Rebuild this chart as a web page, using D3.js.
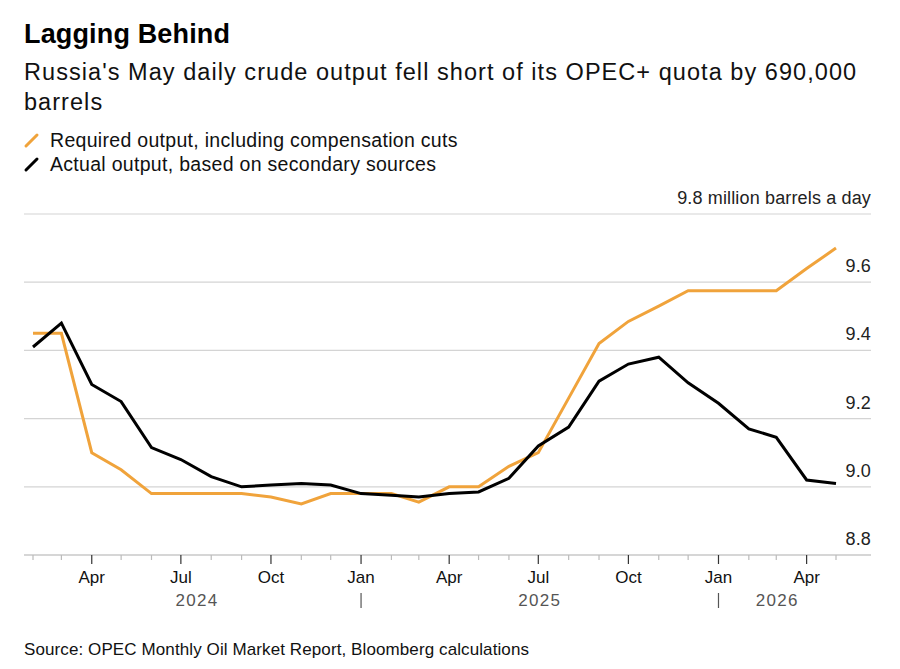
<!DOCTYPE html>
<html lang="en">
<head>
<meta charset="UTF-8">
<title>Lagging Behind</title>
<script src="https://d3js.org/d3.v7.min.js"></script>
<style>
  body { margin: 0; background: #fff; }
  svg { display: block; font-family: "Liberation Sans", Arial, sans-serif; }
</style>
</head>
<body>
<svg id="chart" width="900" height="669"></svg>
<script>
// months from Feb 2024 to May 2026
const months = d3.timeMonths(new Date(2024, 1, 1), new Date(2026, 5, 1));

// million barrels a day
const required = [9.45, 9.45, 9.10, 9.05, 8.98, 8.98, 8.98, 8.98, 8.97, 8.95, 8.98, 8.98,
                  8.98, 8.955, 9.0, 9.0, 9.06, 9.10, 9.26, 9.42, 9.485, 9.53, 9.575, 9.575,
                  9.575, 9.575, 9.64, 9.70];
const actual = [9.41, 9.48, 9.30, 9.25, 9.115, 9.08, 9.03, 9.0, 9.005, 9.01, 9.005, 8.98,
                8.975, 8.97, 8.98, 8.985, 9.025, 9.12, 9.175, 9.31, 9.36, 9.38, 9.305, 9.245,
                9.17, 9.145, 9.02, 9.01];

const yTicks = [8.8, 9.0, 9.2, 9.4, 9.6, 9.8];
const years = [
  { label: "2024", from: new Date(2024, 1, 1), to: new Date(2025, 0, 1) },
  { label: "2025", from: new Date(2025, 0, 1), to: new Date(2026, 0, 1) },
  { label: "2026", from: new Date(2026, 0, 1), to: new Date(2026, 4, 1) }
];
const series = [
  { name: "Required output, including compensation cuts", values: required, color: "#f0a33b" },
  { name: "Actual output, based on secondary sources", values: actual, color: "#000" }
];

const svg = d3.select("#chart");
const plotLeft = 24, plotRight = 871, plotTop = 214, plotBottom = 555;

const x = d3.scaleTime()
  .domain([months[0], months[months.length - 1]])
  .range([33, 836]);
const y = d3.scaleLinear().domain([8.8, 9.8]).range([plotBottom, plotTop]);

// titles
svg.append("text").attr("x", 24).attr("y", 43)
  .attr("font-size", 27).attr("font-weight", "bold").attr("fill", "#000")
  .attr("letter-spacing", 0.15)
  .text("Lagging Behind");
svg.append("text").attr("x", 24).attr("y", 80)
  .attr("font-size", 23.5).attr("fill", "#111").attr("letter-spacing", 1.05)
  .text("Russia's May daily crude output fell short of its OPEC+ quota by 690,000");
svg.append("text").attr("x", 24).attr("y", 110)
  .attr("font-size", 23.5).attr("fill", "#111").attr("letter-spacing", 1.05)
  .text("barrels");

// legend
const legend = svg.append("g");
series.forEach((s, i) => {
  const ly = 147 + i * 24;
  legend.append("line")
    .attr("x1", 26).attr("y1", ly - 1).attr("x2", 37).attr("y2", ly - 12)
    .attr("stroke", s.color).attr("stroke-width", 3).attr("stroke-linecap", "round");
  legend.append("text").attr("x", 50).attr("y", ly)
    .attr("font-size", 19.5).attr("fill", "#111").attr("letter-spacing", 0.3)
    .text(s.name);
});

// gridlines + y labels
const grid = svg.append("g");
grid.selectAll("line").data(yTicks.slice(1)).join("line")
  .attr("x1", plotLeft).attr("x2", plotRight)
  .attr("y1", d => y(d)).attr("y2", d => y(d))
  .attr("stroke", "#d4d4d4").attr("stroke-width", 1.2);
grid.selectAll("text").data(yTicks).join("text")
  .attr("x", plotRight).attr("y", d => y(d) - 10)
  .attr("text-anchor", "end").attr("font-size", 18).attr("fill", "#222")
  .attr("letter-spacing", 0.15)
  .text(d => d === 9.8 ? "9.8 million barrels a day" : d.toFixed(1));

// x axis line
svg.append("line").attr("x1", plotLeft).attr("x2", plotRight)
  .attr("y1", plotBottom).attr("y2", plotBottom)
  .attr("stroke", "#c8c8c8").attr("stroke-width", 1.5);

// month ticks
const quarters = [0, 3, 6, 9];
const ticks = svg.append("g");
ticks.selectAll("line").data(months).join("line")
  .attr("x1", d => x(d)).attr("x2", d => x(d))
  .attr("y1", plotBottom)
  .attr("y2", d => quarters.includes(d.getMonth()) ? plotBottom + 9 : plotBottom + 5)
  .attr("stroke", d => quarters.includes(d.getMonth()) ? "#333" : "#bbb")
  .attr("stroke-width", 1.2);
ticks.selectAll("text").data(months.filter(d => quarters.includes(d.getMonth()))).join("text")
  .attr("x", d => x(d)).attr("y", 583)
  .attr("text-anchor", "middle").attr("font-size", 17).attr("fill", "#111")
  .text(d3.timeFormat("%b"));

// year labels and separators
const yearG = svg.append("g");
yearG.selectAll("text").data(years).join("text")
  .attr("x", d => (x(d.from) + x(d.to)) / 2).attr("y", 606)
  .attr("text-anchor", "middle").attr("font-size", 17).attr("fill", "#555")
  .attr("letter-spacing", 1.3)
  .text(d => d.label);
yearG.selectAll("line").data(years.slice(1)).join("line")
  .attr("x1", d => x(d.from)).attr("x2", d => x(d.from))
  .attr("y1", 593).attr("y2", 608)
  .attr("stroke", "#555").attr("stroke-width", 1.2);

// lines
const line = d3.line().x((d, i) => x(months[i])).y(d => y(d));
svg.append("g").selectAll("path").data(series).join("path")
  .attr("d", d => line(d.values))
  .attr("fill", "none").attr("stroke", d => d.color)
  .attr("stroke-width", 3).attr("stroke-linejoin", "miter");

// source
svg.append("text").attr("x", 24).attr("y", 655)
  .attr("font-size", 17).attr("fill", "#111").attr("letter-spacing", 0.1)
  .text("Source: OPEC Monthly Oil Market Report, Bloomberg calculations");
</script>
</body>
</html>
